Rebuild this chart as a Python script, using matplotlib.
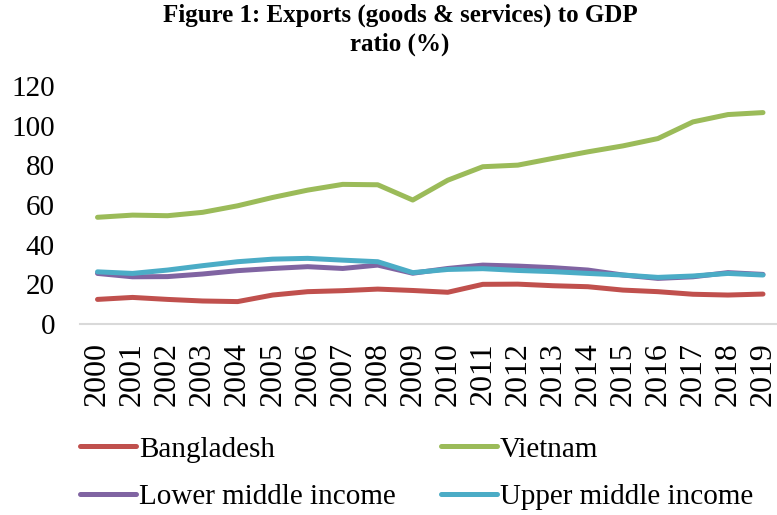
import matplotlib
matplotlib.use("Agg")
import matplotlib.pyplot as plt

years = [str(y) for y in range(2000, 2020)]
bangladesh = [12.4, 13.4, 12.4, 11.6, 11.3, 14.6, 16.3, 16.8, 17.6, 16.9, 16.0, 20.0, 20.1, 19.3, 18.8, 17.1, 16.3, 15.0, 14.6, 15.1]
vietnam = [53.8, 54.9, 54.6, 56.3, 59.6, 63.8, 67.5, 70.4, 70.2, 62.5, 72.5, 79.3, 80.1, 83.5, 86.8, 89.8, 93.5, 101.9, 105.6, 106.6]
lower_mid = [25.5, 23.8, 23.9, 25.2, 26.9, 28.0, 28.9, 28.0, 29.7, 25.6, 28.0, 29.7, 29.2, 28.4, 27.2, 24.7, 23.0, 23.8, 25.9, 25.0]
upper_mid = [26.3, 25.5, 27.2, 29.4, 31.4, 32.7, 33.1, 32.2, 31.4, 25.9, 27.5, 27.9, 27.0, 26.4, 25.5, 24.7, 23.5, 24.2, 25.5, 24.7]
yticks = [0, 20, 40, 60, 80, 100, 120]

plt.rcParams['font.family'] = ['Liberation Serif', 'DejaVu Serif']

fig = plt.figure(figsize=(7.77, 5.15), dpi=100)
ax = fig.add_axes([80/777, 1 - 324/515, (777 - 80)/777, (324 - 86)/515])

x = list(range(len(years)))
lw = 3.6
lb, = ax.plot(x, bangladesh, color='#C0504D', lw=lw, solid_capstyle='round', label='Bangladesh')
lv, = ax.plot(x, vietnam, color='#9BBB59', lw=lw, solid_capstyle='round', label='Vietnam')
ll, = ax.plot(x, lower_mid, color='#8064A2', lw=lw, solid_capstyle='round', label='Lower middle income')
lu, = ax.plot(x, upper_mid, color='#4BACC6', lw=lw, solid_capstyle='round', label='Upper middle income')

ax.set_xlim(-0.5, 19.4)
ax.set_ylim(0, 120)
ax.set_yticks(yticks)
ax.set_yticklabels([str(v) for v in yticks], fontsize=21)
ax.set_xticks(x)
ax.set_xticklabels(years, rotation=90, fontsize=23)
ax.tick_params(axis='both', length=0)
ax.tick_params(axis='y', pad=18)
ax.tick_params(axis='x', pad=13)
for s in ['top', 'right', 'left']:
    ax.spines[s].set_visible(False)
ax.spines['bottom'].set_color('#D9D9D9')
ax.spines['bottom'].set_linewidth(1.5)

fig.text(400/777, 1 - 4/515, 'Figure 1: Exports (goods & services) to GDP\nratio (%)',
         ha='center', va='top', fontsize=18, fontweight='bold', linespacing=1.3)

leg = fig.legend([lb, ll, lv, lu],
                 ['Bangladesh', 'Lower middle income', 'Vietnam', 'Upper middle income'],
                 ncol=2, loc='lower left', bbox_to_anchor=(60/777, -0.03),
                 frameon=False, fontsize=21, handlelength=1.9, handletextpad=0.1,
                 columnspacing=1.57, labelspacing=0.72, borderpad=0.2)

fig.savefig('out.png', dpi=100)
